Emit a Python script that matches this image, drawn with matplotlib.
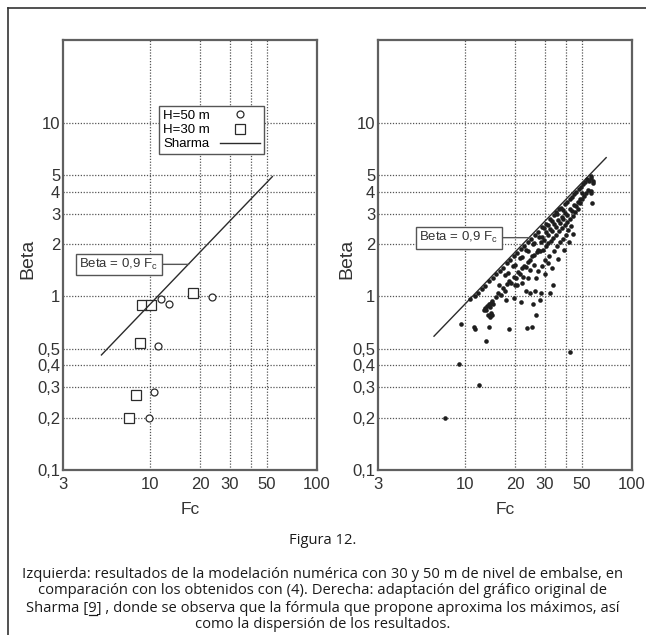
import matplotlib
matplotlib.use("Agg")
import matplotlib.pyplot as plt
from matplotlib.lines import Line2D
from matplotlib.ticker import FixedLocator, NullLocator

# left panel: numerical model results
fc_50 = [11.6, 12.9, 23.4, 11.1, 10.5, 9.8]
beta_50 = [0.97, 0.91, 0.99, 0.52, 0.28, 0.20]
fc_30 = [8.9, 10.1, 18.0, 8.7, 8.2, 7.5]
beta_30 = [0.89, 0.89, 1.05, 0.54, 0.27, 0.20]
sharma_left_fc = [5.1, 54.0]
sharma_left_beta = [0.46, 4.9]

# right panel: Sharma's original data
fc_r = [
    # low outliers
    7.6, 9.2, 12.1, 42.6, 9.5, 11.3, 11.5, 13.3, 13.8, 14.5, 18.3, 23.6, 25.0, 26.7,
    # row lying on the line
    10.7, 11.4, 12.0, 12.6, 13.2, 13.9, 14.6, 15.3, 16.1, 16.9, 17.7, 18.6, 19.5, 20.5,
    21.5, 22.6, 23.7, 24.9, 26.1, 27.4, 28.7,
    # small cluster
    12.9, 13.2, 13.4, 13.6, 13.8, 14.0, 14.2, 14.5, 14.7, 14.3, 14.0, 13.7,
    # second band
    15.2, 15.8, 16.4, 16.9, 17.3, 17.8, 18.4, 18.9, 19.5, 20.1, 20.7, 21.3, 21.9, 22.6,
    23.2, 23.9, 24.6, 25.3, 26.0, 26.8, 27.5,
    # between
    16.0, 17.4, 18.0, 19.4, 20.0, 21.2, 21.8, 23.3, 23.8, 25.4, 26.0, 27.6, 19.8, 22.3,
    24.3, 25.8,
    # below the band
    20.5, 23.3, 23.8, 26.2, 24.4, 28.6, 32.4, 33.6, 26.7, 29.0, 31.2, 22.0, 27.5, 30.0,
    17.5, 19.5, 21.5, 25.5, 28.0,
    # dense upper part
    29.6, 30.4, 31.3, 32.1, 33.0, 33.9, 34.8, 35.6, 36.7, 37.6, 38.7, 39.8, 41.0, 42.3,
    43.6, 45.0, 46.3, 47.8, 49.2, 50.5, 52.0, 53.5, 55.4, 56.6, 57.0, 58.2,
    # dense middle
    28.3, 29.0, 29.8, 30.6, 31.4, 32.2, 33.1, 34.0, 34.9, 35.8, 36.8, 37.8, 38.8, 39.9,
    41.0, 42.2, 43.5, 44.8, 46.0, 47.2, 48.6, 50.2, 51.5, 53.0, 54.5, 48.6, 50.2,
    # lower band
    28.0, 29.3, 30.5, 31.5, 32.5, 33.5, 35.0, 36.5, 38.0, 39.5, 41.0, 42.5, 44.0, 45.5,
    47.2,
    # lower scatter
    30.0, 32.0, 34.0, 35.5, 37.0, 38.5, 40.0, 41.5, 43.0, 33.0, 36.0, 39.0, 42.0, 44.5,
    # right-hand outliers
    57.0, 57.5, 58.0, 57.0,
]
beta_r = [
    0.20, 0.41, 0.31, 0.48, 0.69, 0.67, 0.65, 0.55, 0.67, 0.78, 0.65, 0.66, 0.67, 0.78,
    0.96, 1.01, 1.04, 1.11, 1.15, 1.23, 1.27, 1.34, 1.41, 1.46, 1.56, 1.62, 1.71, 1.77,
    1.88, 1.95, 2.06, 2.14, 2.27, 2.36, 2.50,
    0.83, 0.86, 0.84, 0.88, 0.90, 0.87, 0.92, 0.94, 0.90, 0.80, 0.76, 0.78,
    0.99, 1.04, 1.02, 1.12, 1.08, 1.18, 1.22, 1.19, 1.29, 1.27, 1.38, 1.35, 1.46, 1.50,
    1.47, 1.58, 1.62, 1.70, 1.74, 1.80, 1.86,
    1.16, 1.33, 1.36, 1.49, 1.52, 1.66, 1.69, 1.84, 1.82, 2.00, 2.02, 2.19, 1.17, 1.30,
    1.42, 1.52,
    1.17, 1.07, 1.28, 1.07, 1.05, 1.05, 1.05, 1.17, 1.28, 1.49, 1.56, 1.20, 1.40, 1.35,
    0.95, 0.98, 0.93, 0.90, 0.95,
    2.48, 2.62, 2.58, 2.79, 2.72, 2.95, 3.05, 2.98, 3.18, 3.25, 3.15, 3.42, 3.48, 3.62,
    3.75, 3.88, 4.02, 4.15, 4.28, 4.45, 4.55, 4.75, 4.62, 4.80, 4.95, 4.52,
    2.05, 2.20, 2.12, 2.35, 2.25, 2.45, 2.38, 2.60, 2.52, 2.75, 2.65, 2.88, 2.80, 3.02,
    2.95, 3.18, 3.12, 3.35, 3.30, 3.52, 3.45, 3.62, 3.80, 3.95, 4.10, 3.62, 3.94,
    1.82, 1.86, 1.95, 2.02, 2.08, 2.18, 2.25, 2.38, 2.48, 2.58, 2.68, 2.78, 2.92, 3.05,
    3.20,
    1.62, 1.70, 1.82, 1.95, 2.05, 2.15, 2.25, 2.40, 2.55, 1.45, 1.65, 1.85, 2.05, 2.30,
    3.94, 3.45, 4.60, 4.05,
]
sharma_right_fc = [6.5, 70.0]
sharma_right_beta = [0.59, 6.3]

x_ticks = [3, 10, 20, 30, 50, 100]
x_grid = [10, 20, 30, 40, 50]
y_ticks = [0.1, 0.2, 0.3, 0.4, 0.5, 1, 2, 3, 4, 5, 10]
y_labels = ["0,1", "0,2", "0,3", "0,4", "0,5", "1", "2", "3", "4", "5", "10"]
y_grid = [0.2, 0.3, 0.4, 0.5, 1, 2, 3, 4, 5, 10]

ink = "#2b2b2b"
plt.rcParams["font.family"] = ["Liberation Sans", "DejaVu Sans"]

fig = plt.figure(figsize=(6.46, 6.35), dpi=100)
ax_l = fig.add_axes([63 / 646, 1 - 470 / 635, 254 / 646, 430 / 635])
ax_r = fig.add_axes([378 / 646, 1 - 470 / 635, 254 / 646, 430 / 635])


def style_axes(ax, label_x):
    ax.set_xscale("log")
    ax.set_yscale("log")
    ax.set_xlim(3, 100)
    ax.set_ylim(0.1, 30)
    ax.xaxis.set_major_locator(FixedLocator(x_ticks))
    ax.xaxis.set_minor_locator(NullLocator())
    ax.set_xticklabels([str(v) for v in x_ticks])
    ax.yaxis.set_major_locator(FixedLocator(y_ticks))
    ax.yaxis.set_minor_locator(NullLocator())
    ax.set_yticklabels(y_labels)
    ax.tick_params(length=0, labelsize=12, labelcolor="#333333")
    ax.tick_params(axis="x", pad=5)
    ax.tick_params(axis="y", pad=2)
    for v in x_grid:
        ax.axvline(v, color="#555555", lw=0.9, ls=(0, (1, 1.3)), zorder=0)
    for v in y_grid:
        ax.axhline(v, color="#555555", lw=0.9, ls=(0, (1, 1.3)), zorder=0)
    for s in ax.spines.values():
        s.set_color("#606060")
        s.set_linewidth(1.6)
    ax.set_xlabel("Fc", fontsize=12.5, color="#333333")
    ax.set_ylabel("Beta", fontsize=14, color="#333333")
    ax.xaxis.set_label_coords(0.5, -0.075)
    ax.yaxis.set_label_coords(label_x, 0.49)


style_axes(ax_l, -0.106)
style_axes(ax_r, -0.09)

# left panel
ax_l.plot(fc_50, beta_50, ls="none", marker="o", ms=5, mfc="white", mec=ink, mew=0.9,
          label="H=50 m")
ax_l.plot(fc_30, beta_30, ls="none", marker="s", ms=7, mfc="white", mec=ink, mew=0.9,
          label="H=30 m")
ax_l.plot(sharma_left_fc, sharma_left_beta, color=ink, lw=1.0, label="Sharma")
leg = ax_l.legend(loc="upper left", bbox_to_anchor=(0.378, 0.847), markerfirst=False,
                  fontsize=9.5, frameon=True, fancybox=False, edgecolor="#555555",
                  framealpha=1, borderpad=0.3, labelspacing=0.15, handlelength=3.0,
                  handletextpad=0.8, borderaxespad=0)
leg.get_frame().set_linewidth(1.0)

box = dict(boxstyle="square,pad=0.25", fc="white", ec="#555555", lw=1.0)
ax_l.annotate("Beta = 0,9 F$_\\mathregular{c}$", xy=(17, 1.53), xytext=(6.5, 1.53),
              ha="center", va="center", fontsize=9.5, color="#333333", bbox=box,
              arrowprops=dict(arrowstyle="-", color="#555555", lw=1.0, shrinkA=0, shrinkB=0))

# right panel
ax_r.plot(sharma_right_fc, sharma_right_beta, color=ink, lw=1.0)
ax_r.plot(fc_r, beta_r, ls="none", marker="o", ms=3.3, color="#1e1e1e", mew=0)
ax_r.annotate("Beta = 0,9 F$_\\mathregular{c}$", xy=(24.2, 2.18), xytext=(9.15, 2.18),
              ha="center", va="center", fontsize=9.5, color="#333333", bbox=box,
              arrowprops=dict(arrowstyle="-", color="#555555", lw=1.0, shrinkA=0, shrinkB=0))

# outer frame
fig.add_artist(Line2D([8 / 646, 1], [1 - 8 / 635, 1 - 8 / 635], transform=fig.transFigure,
                      color="#333333", lw=1.2))
fig.add_artist(Line2D([8 / 646, 8 / 646], [0, 1 - 8 / 635], transform=fig.transFigure,
                      color="#333333", lw=1.2))

# caption
cap_font = dict(family=["Open Sans", "DejaVu Sans"], fontsize=10.6, color="#1a1a1a",
                ha="center", va="center")
fig.text(0.5, 1 - 541 / 635, "Figura 12.", **cap_font)
caption_lines = [
    "Izquierda: resultados de la modelación numérica con 30 y 50 m de nivel de embalse, en",
    "comparación con los obtenidos con (4). Derecha: adaptación del gráfico original de",
    "Sharma [9] , donde se observa que la fórmula que propone aproxima los máximos, así",
    "como la dispersión de los resultados.",
]
caption_y = [574, 591, 608, 625]
texts = []
for line, y in zip(caption_lines, caption_y):
    texts.append(fig.text(0.5, 1 - y / 635, line, **cap_font))

# underline the reference number
fig.canvas.draw()
renderer = fig.canvas.get_renderer()
bb = texts[2].get_window_extent(renderer)


def text_width(s):
    t = fig.text(0, 0, s, **{k: v for k, v in cap_font.items() if k not in ("ha", "va")})
    w = t.get_window_extent(renderer).width
    t.remove()
    return w


x0 = bb.x0 + text_width("Sharma [")
x1 = bb.x0 + text_width("Sharma [9")
yu = bb.y0 + 1
fig.add_artist(Line2D([x0 / fig.bbox.width, x1 / fig.bbox.width],
                      [yu / fig.bbox.height, yu / fig.bbox.height],
                      transform=fig.transFigure, color="#1a1a1a", lw=0.9))

fig.savefig("out.png", dpi=100)
